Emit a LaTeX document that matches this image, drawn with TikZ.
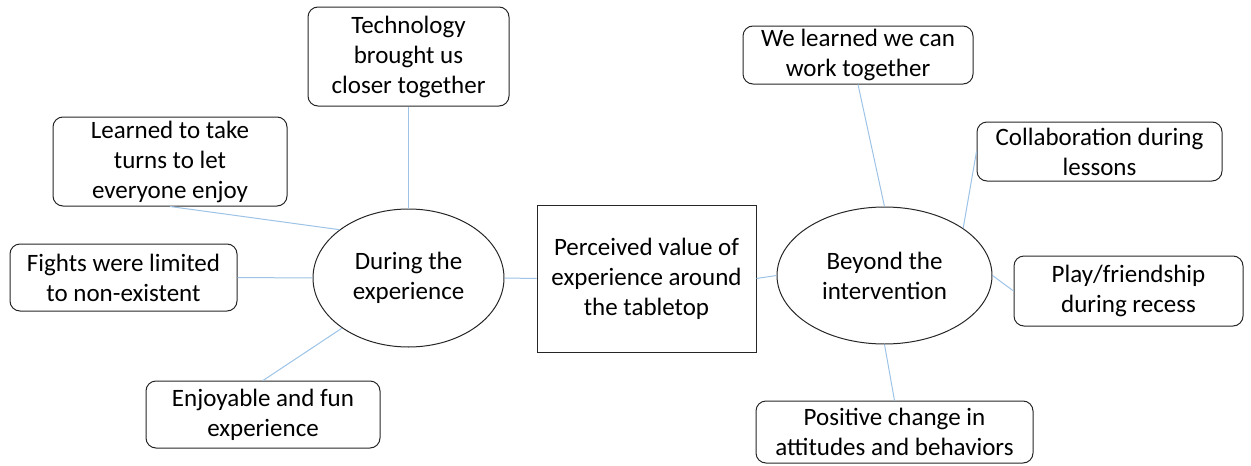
\documentclass[tikz,border=0pt]{standalone}
\usepackage{fontspec}
\setmainfont{Carlito}
\usetikzlibrary{shapes.geometric}
\definecolor{linkblue}{RGB}{157,195,230}
\tikzset{
	leaf/.style={draw=black!85, line width=1pt, rounded corners=10pt, align=center, inner sep=0pt},
	hub/.style={draw=black!85, line width=1pt, ellipse, align=center, inner sep=0pt},
	core/.style={draw=black!85, line width=1pt, align=center, inner sep=0pt},
	link/.style={draw=linkblue, line width=1pt}
}

\begin{document}
\begin{tikzpicture}[x=1pt, y=-1pt, font=\fontsize{25}{30}\selectfont]
		%%%%% START %%%%%
		\useasboundingbox (0, 0) rectangle (1251, 466);
		
		% middle
		\node[core, minimum width=219pt, minimum height=147pt] (value) at (646.5, 278.5) {Perceived value of\\experience around\\the tabletop};
		\node[hub, minimum width=191pt, minimum height=138pt] (during) at (408.5, 278) {During the\\experience};
		\node[hub, minimum width=215pt, minimum height=137pt] (beyond) at (884.5, 275.5) {Beyond the\\intervention};
		
		% left side
		\node[leaf, minimum width=201pt, minimum height=99pt] (techno) at (408.5, 56.5) {Technology\\brought us\\closer together};
		\node[leaf, minimum width=234pt, minimum height=89pt] (turns) at (170, 161.5) {Learned to take\\turns to let\\everyone enjoy};
		\node[leaf, minimum width=227pt, minimum height=67pt] (fights) at (123.5, 277.5) {Fights were limited\\to non-existent};
		\node[leaf, minimum width=234pt, minimum height=67pt] (enjoy) at (263, 414.5) {Enjoyable and fun\\experience};
		
		% right side
		\node[leaf, minimum width=230pt, minimum height=58pt] (learned) at (858, 55) {We learned we can\\work together};
		\node[leaf, minimum width=245pt, minimum height=59pt] (collab) at (1099.5, 151.5) {Collaboration during\\lessons};
		\node[leaf, minimum width=229pt, minimum height=70pt] (play) at (1128.5, 291) {Play/friendship\\during recess};
		\node[leaf, minimum width=277pt, minimum height=62pt] (change) at (894.5, 432) {Positive change in\\attitudes and behaviors};
		
		% links
		\draw[link] (during.east) -- (value.west);
		\draw[link] (value.east) -- (beyond.west);
		
		\draw[link] (techno.south) -- (during.north);
		\draw[link] (turns.south) -- (during.145);
		\draw[link] (fights.east) -- (during.west);
		\draw[link] (enjoy.north) -- (during.217);
		
		\draw[link] (learned.south) -- (beyond.north);
		\draw[link] (collab.west) -- (beyond.31);
		\draw[link] (play.west) -- (beyond.east);
		\draw[link] (change.north) -- (beyond.south);
		
		%%%%% END %%%%%
	\end{tikzpicture}
\end{document}
